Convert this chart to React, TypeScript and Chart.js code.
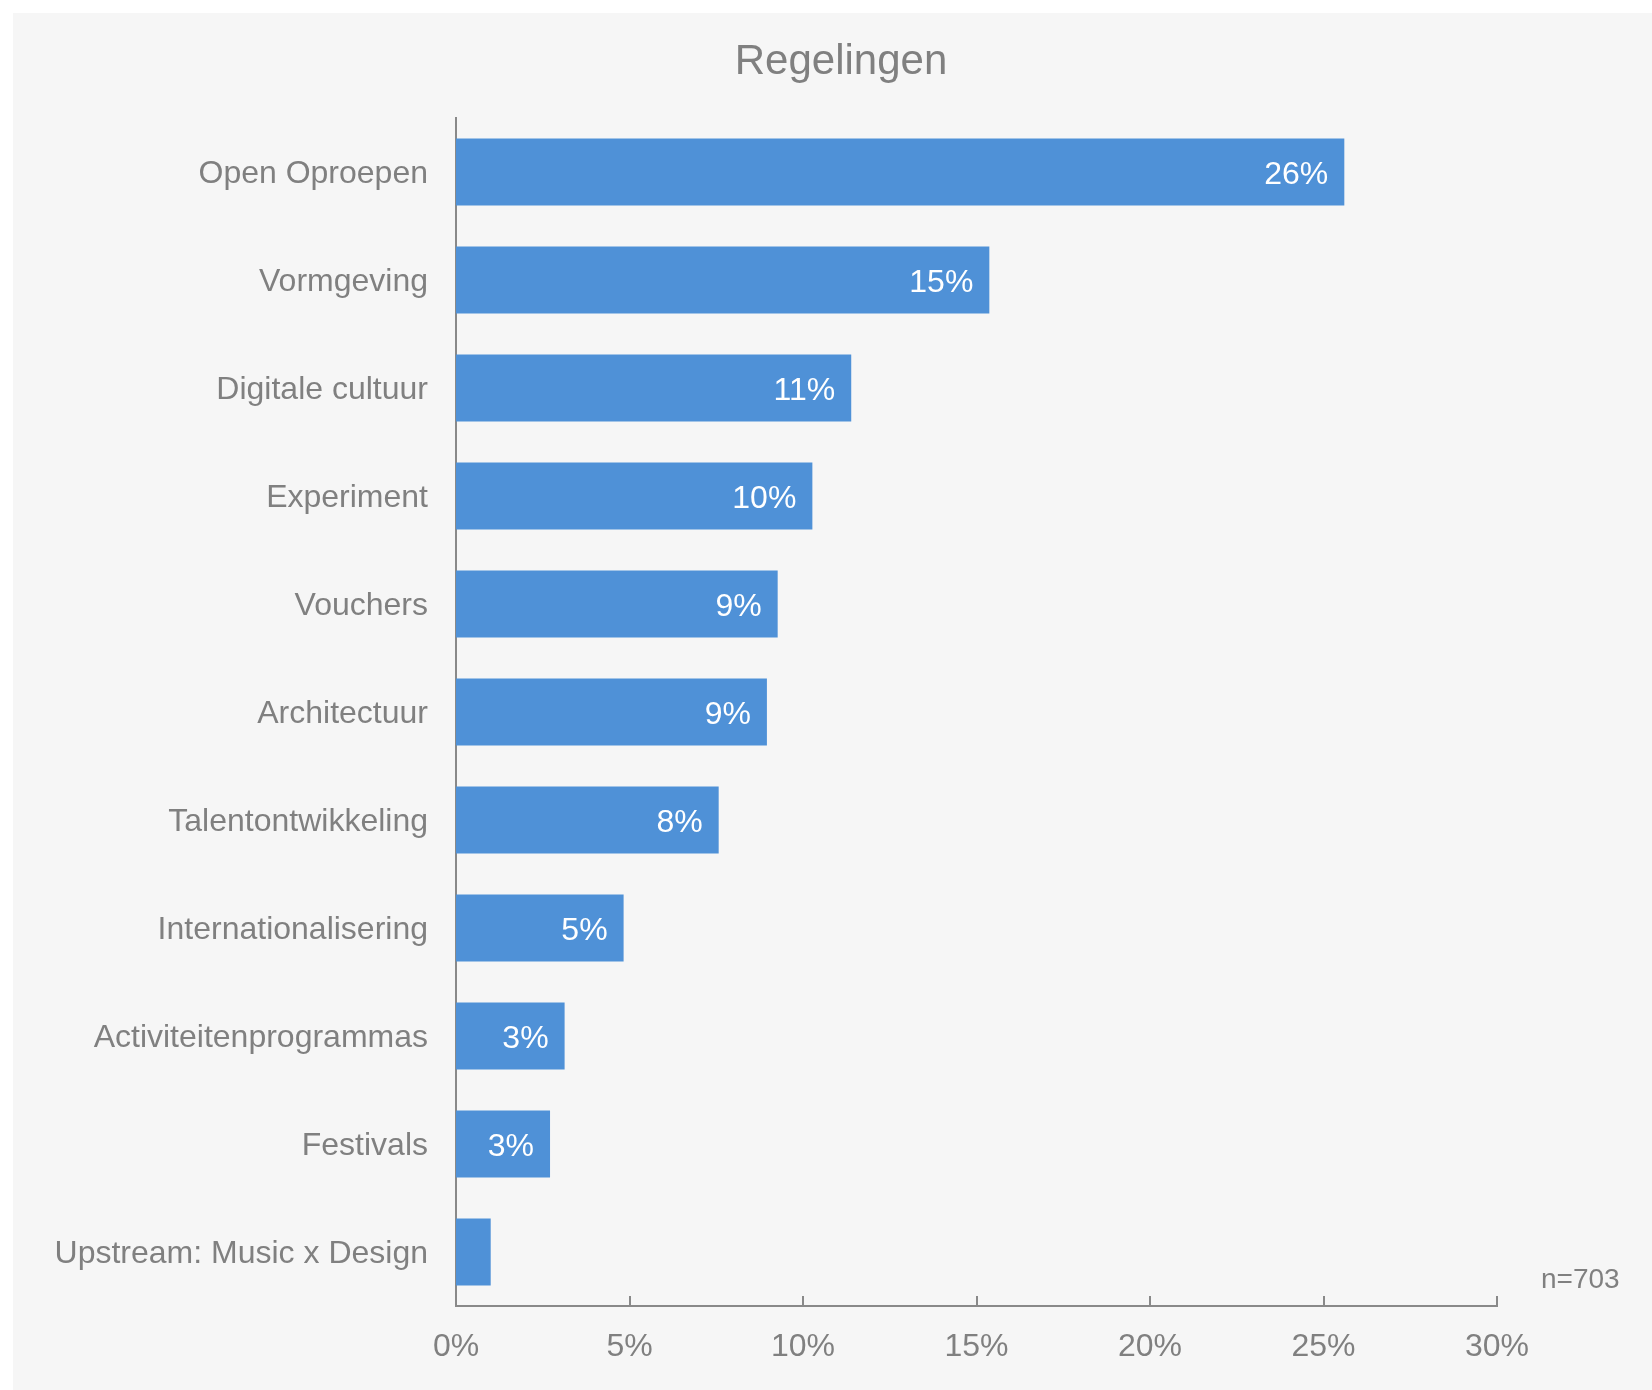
import React, { useEffect, useRef } from "react";
import { Chart, registerables } from "chart.js";

Chart.register(...registerables);

const categories = [
  "Open Oproepen",
  "Vormgeving",
  "Digitale cultuur",
  "Experiment",
  "Vouchers",
  "Architectuur",
  "Talentontwikkeling",
  "Internationalisering",
  "Activiteitenprogrammas",
  "Festivals",
  "Upstream: Music x Design",
];
const values = [25.6, 15.37, 11.39, 10.27, 9.27, 8.96, 7.57, 4.83, 3.13, 2.71, 1.0];
const xTicks = [0, 5, 10, 15, 20, 25, 30];
const titleText = "Regelingen";
const noteText = "n=703";

const FONT = "'Liberation Sans', Arial, Helvetica, sans-serif";
const GREY = "#808080";
const AXIS = "#898989";
const BAR = "#4f91d7";
const W = 1639;
const H = 1377;

export default function App() {
  const ref = useRef<HTMLCanvasElement | null>(null);
  useEffect(() => {
    if (!ref.current) return;
    const overlay = {
      id: "overlay",
      afterDatasetsDraw(chart: any) {
        const ctx = chart.ctx;
        const meta = chart.getDatasetMeta(0);
        ctx.save();
        ctx.font = `32px ${FONT}`;
        ctx.fillStyle = "#ffffff";
        ctx.textAlign = "right";
        ctx.textBaseline = "middle";
        meta.data.forEach((bar: any, i: number) => {
          const txt = Math.round(values[i]) + "%";
          const w = ctx.measureText(txt).width;
          const left = bar.base;
          const right = bar.x;
          if (right - left < w + 24) return;
          ctx.fillText(txt, right - 16, bar.y + 3);
        });
        ctx.restore();
      },
      afterDraw(chart: any) {
        const ctx = chart.ctx;
        const xs = chart.scales.x;
        const area = chart.chartArea;
        ctx.save();
        ctx.strokeStyle = AXIS;
        ctx.lineWidth = 2;
        xTicks.forEach((t) => {
          if (t === 0) return;
          const px = Math.round(xs.getPixelForValue(t));
          ctx.beginPath();
          ctx.moveTo(px, area.bottom);
          ctx.lineTo(px, area.bottom - 10);
          ctx.stroke();
        });
        ctx.fillStyle = GREY;
        ctx.font = `42px ${FONT}`;
        ctx.textAlign = "center";
        ctx.textBaseline = "middle";
        ctx.fillText(titleText, 828, 49);
        ctx.font = `28px ${FONT}`;
        ctx.textAlign = "left";
        ctx.fillText(noteText, 1528, 1267);
        ctx.restore();
      },
    };
    const chart = new Chart(ref.current, {
      type: "bar",
      data: {
        labels: categories,
        datasets: [
          {
            data: values,
            backgroundColor: BAR,
            borderWidth: 0,
            barPercentage: 0.62,
            categoryPercentage: 1,
          },
        ],
      },
      options: {
        indexAxis: "y",
        responsive: false,
        animation: false,
        layout: { padding: { left: 0, top: 105, right: W - 1484, bottom: 0 } },
        plugins: {
          legend: { display: false },
          title: { display: false },
          tooltip: { enabled: false },
        },
        scales: {
          x: {
            type: "linear",
            min: 0,
            max: 30,
            afterBuildTicks: (scale: any) => {
              scale.ticks = xTicks.map((v) => ({ value: v }));
            },
            afterFit: (scale: any) => {
              scale.height = H - 1293;
            },
            grid: { display: false, drawTicks: false },
            border: { display: true, color: AXIS, width: 2 },
            ticks: {
              color: GREY,
              font: { family: FONT, size: 32 },
              padding: 22,
              maxRotation: 0,
              callback: (v: any) => v + "%",
            },
          },
          y: {
            afterFit: (scale: any) => {
              scale.width = 443;
            },
            grid: { display: false, drawTicks: false },
            border: { display: true, color: AXIS, width: 2 },
            ticks: {
              color: GREY,
              font: { family: FONT, size: 32 },
              padding: 28,
              labelOffset: 2,
              autoSkip: false,
            },
          },
        },
      },
      plugins: [overlay],
    });
    return () => chart.destroy();
  }, []);

  return (
    <div style={{ position: "fixed", left: 0, top: 0, width: 1652, height: 1390, background: "#ffffff", overflow: "hidden" }}>
      <div style={{ position: "absolute", left: 13, top: 13, width: W, height: H, background: "#f6f6f6" }}>
        <canvas ref={ref} width={W} height={H} style={{ width: W, height: H, display: "block" }} />
      </div>
    </div>
  );
}
